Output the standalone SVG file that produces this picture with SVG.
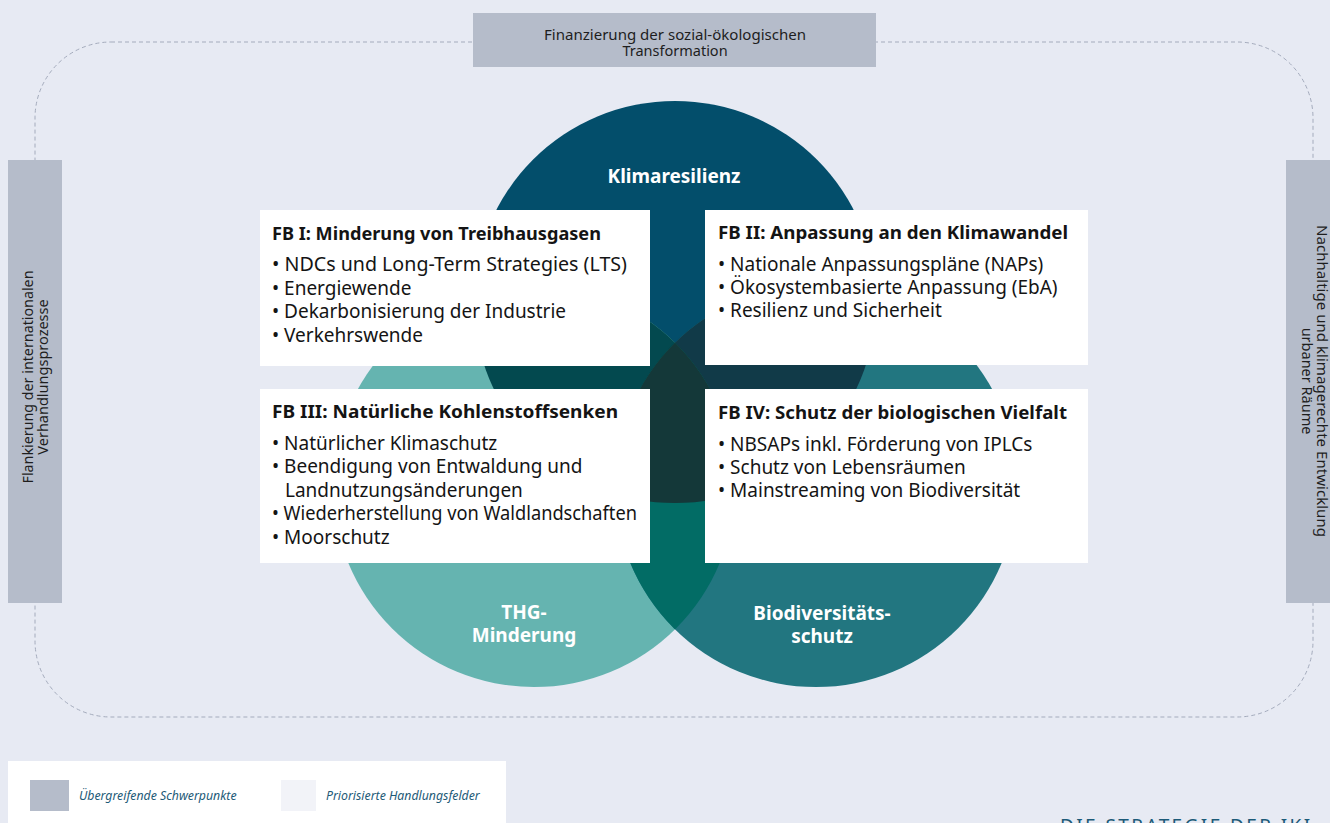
<svg xmlns="http://www.w3.org/2000/svg" width="1330" height="823" viewBox="0 0 1330 823">
  <style>
    .bg { fill: #e7eaf3; }
    .focus { fill: #b5bcca; }
    .card { fill: #ffffff; }
    .frame { fill: none; stroke: #a4abbc; stroke-width: 1; stroke-dasharray: 4 3; }
    .side { font-family: "Noto Sans", "Liberation Sans", sans-serif; font-size: 14.5px; fill: #1e1e1e; text-anchor: middle; }
    .title { font-family: "Noto Sans", "Liberation Sans", sans-serif; font-size: 18.5px; font-weight: 700; fill: #141414; }
    .item { font-family: "Noto Sans", "Liberation Sans", sans-serif; font-size: 19px; fill: #141414; }
    .circle-label { font-family: "Noto Sans", "Liberation Sans", sans-serif; font-size: 19px; font-weight: 700; fill: #ffffff; text-anchor: middle; }
    .legend-text { font-family: "Noto Sans", "Liberation Sans", sans-serif; font-size: 12.3px; font-style: italic; fill: #1d5a77; }
    .footer { font-family: "Noto Sans", "Liberation Sans", sans-serif; font-size: 19px; letter-spacing: 2.4px; fill: #1c5a78; }
  </style>
  <defs>
    <clipPath id="clip-top"><circle cx="675" cy="302" r="201"/></clipPath>
    <clipPath id="clip-left"><circle cx="534" cy="486" r="201"/></clipPath>
  </defs>

  <rect class="bg" x="0" y="0" width="1330" height="823"/>

  <!-- dashed frame linking the cross-cutting focus areas -->
  <g id="connectors">
    <rect class="frame" x="35" y="42" width="1278" height="675" rx="76" ry="76"/>
  </g>

  <!-- Venn diagram of the three goals -->
  <g id="venn">
    <g id="klimaresilienz">
      <circle cx="675" cy="302" r="201" fill="#034e6b"/>
    </g>
    <g id="thg-minderung">
      <circle cx="534" cy="486" r="201" fill="#65b4b0"/>
    </g>
    <g id="biodiversitaetsschutz">
      <circle cx="816" cy="486" r="201" fill="#227680"/>
    </g>
    <!-- overlaps -->
    <circle cx="534" cy="486" r="201" fill="#03494f" clip-path="url(#clip-top)"/>
    <circle cx="816" cy="486" r="201" fill="#113a48" clip-path="url(#clip-top)"/>
    <circle cx="816" cy="486" r="201" fill="#026c65" clip-path="url(#clip-left)"/>
    <g clip-path="url(#clip-top)">
      <circle cx="816" cy="486" r="201" fill="#143839" clip-path="url(#clip-left)"/>
    </g>
    <text class="circle-label" x="674" y="183">Klimaresilienz</text>
    <text class="circle-label" x="524" y="619">THG-</text>
    <text class="circle-label" x="524" y="642">Minderung</text>
    <text class="circle-label" x="822" y="620">Biodiversitäts-</text>
    <text class="circle-label" x="822" y="643">schutz</text>
  </g>

  <!-- priority fields -->
  <g id="fb1">
    <rect class="card" x="260" y="210" width="390" height="156"/>
    <text class="title" x="272" y="240" textLength="329" lengthAdjust="spacingAndGlyphs">FB I: Minderung von Treibhausgasen</text>
    <text class="item" x="272" y="271" textLength="355" lengthAdjust="spacingAndGlyphs">• NDCs und Long-Term Strategies (LTS)</text>
    <text class="item" x="272" y="295">• Energiewende</text>
    <text class="item" x="272" y="318">• Dekarbonisierung der Industrie</text>
    <text class="item" x="272" y="342">• Verkehrswende</text>
  </g>

  <g id="fb2">
    <rect class="card" x="705" y="210" width="383" height="155"/>
    <text class="title" x="718" y="239" textLength="350" lengthAdjust="spacingAndGlyphs">FB II: Anpassung an den Klimawandel</text>
    <text class="item" x="718" y="271">• Nationale Anpassungspläne (NAPs)</text>
    <text class="item" x="718" y="294">• Ökosystembasierte Anpassung (EbA)</text>
    <text class="item" x="718" y="317">• Resilienz und Sicherheit</text>
  </g>

  <g id="fb3">
    <rect class="card" x="260" y="389" width="390" height="174"/>
    <text class="title" x="272" y="418" textLength="346" lengthAdjust="spacingAndGlyphs">FB III: Natürliche Kohlenstoffsenken</text>
    <text class="item" x="272" y="450">• Natürlicher Klimaschutz</text>
    <text class="item" x="272" y="473">• Beendigung von Entwaldung und</text>
    <text class="item" x="285" y="497">Landnutzungsänderungen</text>
    <text class="item" x="272" y="520" textLength="365" lengthAdjust="spacingAndGlyphs">• Wiederherstellung von Waldlandschaften</text>
    <text class="item" x="272" y="544">• Moorschutz</text>
  </g>

  <g id="fb4">
    <rect class="card" x="705" y="389" width="383" height="174"/>
    <text class="title" x="718" y="419" textLength="349" lengthAdjust="spacingAndGlyphs">FB IV: Schutz der biologischen Vielfalt</text>
    <text class="item" x="718" y="451">• NBSAPs inkl. Förderung von IPLCs</text>
    <text class="item" x="718" y="474">• Schutz von Lebensräumen</text>
    <text class="item" x="718" y="497">• Mainstreaming von Biodiversität</text>
  </g>

  <!-- cross-cutting focus areas -->
  <g id="finanzierung">
    <rect class="focus" x="473" y="13" width="403" height="54"/>
    <text class="side" x="675" y="40" textLength="262" lengthAdjust="spacingAndGlyphs">Finanzierung der sozial-ökologischen</text>
    <text class="side" x="675" y="56">Transformation</text>
  </g>

  <g id="flankierung">
    <rect class="focus" x="8" y="160" width="54" height="443"/>
    <g transform="translate(33,377) rotate(-90)">
      <text class="side" x="0" y="0" textLength="213" lengthAdjust="spacingAndGlyphs">Flankierung der internationalen</text>
      <text class="side" x="0" y="15">Verhandlungsprozesse</text>
    </g>
  </g>

  <g id="urbane-raeume">
    <rect class="focus" x="1286" y="160" width="50" height="443"/>
    <g transform="translate(1317,381) rotate(90)">
      <text class="side" x="0" y="0" textLength="312" lengthAdjust="spacingAndGlyphs">Nachhaltige und klimagerechte Entwicklung</text>
      <text class="side" x="0" y="15">urbaner Räume</text>
    </g>
  </g>

  <!-- legend -->
  <g id="legend">
    <rect class="card" x="8" y="761" width="498" height="70"/>
    <rect class="focus" x="30" y="780" width="39" height="31"/>
    <text class="legend-text" x="79" y="800">Übergreifende Schwerpunkte</text>
    <rect x="281" y="780" width="35" height="31" fill="#f2f3f8"/>
    <text class="legend-text" x="326" y="800">Priorisierte Handlungsfelder</text>
  </g>

  <text class="footer" x="1060" y="833">DIE STRATEGIE DER IKI</text>
</svg>
